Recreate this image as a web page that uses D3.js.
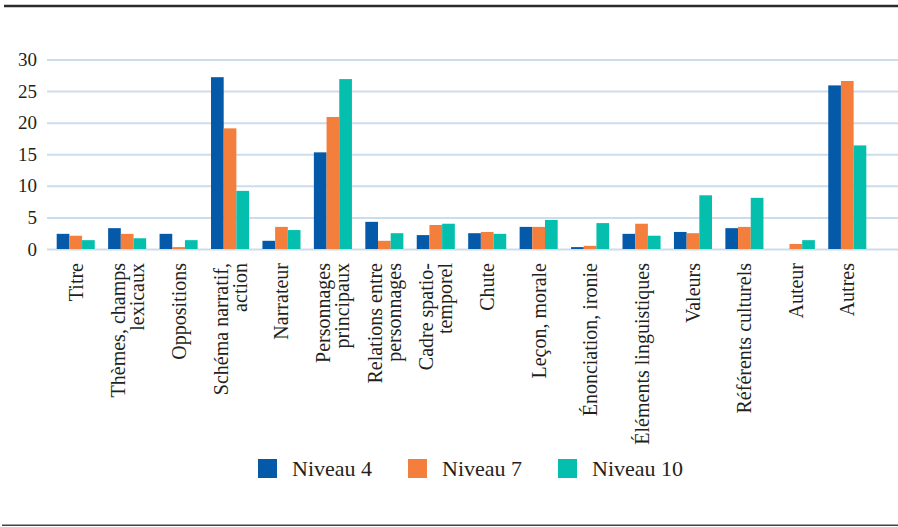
<!DOCTYPE html>
<html><head><meta charset="utf-8">
<script src="https://cdn.jsdelivr.net/npm/d3@7/dist/d3.min.js"></script>
<style>html,body{margin:0;padding:0;background:#fff}svg{display:block}</style>
</head><body>
<script>
const categories = [
  ["Titre"],
  ["Thèmes, champs","lexicaux"],
  ["Oppositions"],
  ["Schéma narratif,","action"],
  ["Narrateur"],
  ["Personnages","principaux"],
  ["Relations entre","personnages"],
  ["Cadre spatio-","temporel"],
  ["Chute"],
  ["Leçon, morale"],
  ["Énonciation, ironie"],
  ["Éléments linguistiques"],
  ["Valeurs"],
  ["Référents culturels"],
  ["Auteur"],
  ["Autres"]
];
const seriesNames = ["Niveau 4","Niveau 7","Niveau 10"];
const niveau4  = [2.4, 3.3, 2.4, 27.2, 1.3, 15.3, 4.3, 2.2, 2.5, 3.5, 0.3, 2.4, 2.7, 3.3, 0,   25.9];
const niveau7  = [2.1, 2.4, 0.3, 19.1, 3.5, 20.9, 1.3, 3.8, 2.7, 3.5, 0.5, 4.0, 2.5, 3.5, 0.8, 26.6];
const niveau10 = [1.4, 1.7, 1.4, 9.2,  3.0, 26.9, 2.5, 4.0, 2.4, 4.6, 4.1, 2.1, 8.5, 8.1, 1.4, 16.4];
const yTicks = [0,5,10,15,20,25,30];
const colors = ["#0459a8","#f47e3b","#04bfae"];

const W = 898, H = 527;
const svg = d3.select("body").append("svg").attr("width", W).attr("height", H);
const font = "'Liberation Serif','Times New Roman',serif";
const textColor = "#231f20";

// frame lines
svg.append("line").attr("x1",4).attr("x2",898).attr("y1",6).attr("y2",6)
  .attr("stroke","#2b2b2b").attr("stroke-width",2.6);
svg.append("line").attr("x1",2).attr("x2",898).attr("y1",525.2).attr("y2",525.2)
  .attr("stroke","#444").attr("stroke-width",1.5);

const y = d3.scaleLinear().domain([0,30]).range([249,59.5]);
const keys = categories.map((d,i)=>i);
const x = d3.scaleBand().domain(keys).range([50,873]).paddingInner(0.26).paddingOuter(0.13);
const xs = d3.scaleBand().domain([0,1,2]).range([0,x.bandwidth()]);

// gridlines
const yAxis = d3.axisLeft(y).tickValues(yTicks).tickSize(-(898-47)).tickPadding(10).tickFormat(d3.format("d"));
const gy = svg.append("g").attr("transform","translate(47,0)").call(yAxis);
gy.select(".domain").remove();
gy.selectAll(".tick line").attr("stroke","#cddcea").attr("stroke-width",2);
gy.selectAll(".tick text").attr("font-family",font).attr("font-size",19).attr("fill",textColor);

// bars
const data = [niveau4, niveau7, niveau10];
data.forEach((vals, s) => {
  svg.append("g").selectAll("rect").data(vals).join("rect")
    .attr("x",(d,i)=>x(i)+xs(s))
    .attr("width",xs.bandwidth())
    .attr("y",d=>y(d))
    .attr("height",d=>y(0)-y(d))
    .attr("fill",colors[s]);
});

// x labels
const lineH = 19;
const lab = svg.append("g");
categories.forEach((lines,i)=>{
  const cx = x(i) + x.bandwidth()/2;
  const n = lines.length;
  lines.forEach((t,j)=>{
    const bx = cx + 7 + (j - (n-1)/2)*lineH;
    lab.append("text")
      .attr("transform",`translate(${bx},263) rotate(-90)`)
      .attr("text-anchor","end")
      .attr("font-family",font).attr("font-size",20).attr("fill",textColor)
      .text(t);
  });
});

// legend
const legX = [258,408,558];
const lg = svg.append("g");
seriesNames.forEach((name,i)=>{
  lg.append("rect").attr("x",legX[i]).attr("y",459).attr("width",19).attr("height",19).attr("fill",colors[i]);
  lg.append("text").attr("x",legX[i]+34).attr("y",476)
    .attr("font-family",font).attr("font-size",22).attr("fill",textColor).text(name);
});
</script>
</body></html>
